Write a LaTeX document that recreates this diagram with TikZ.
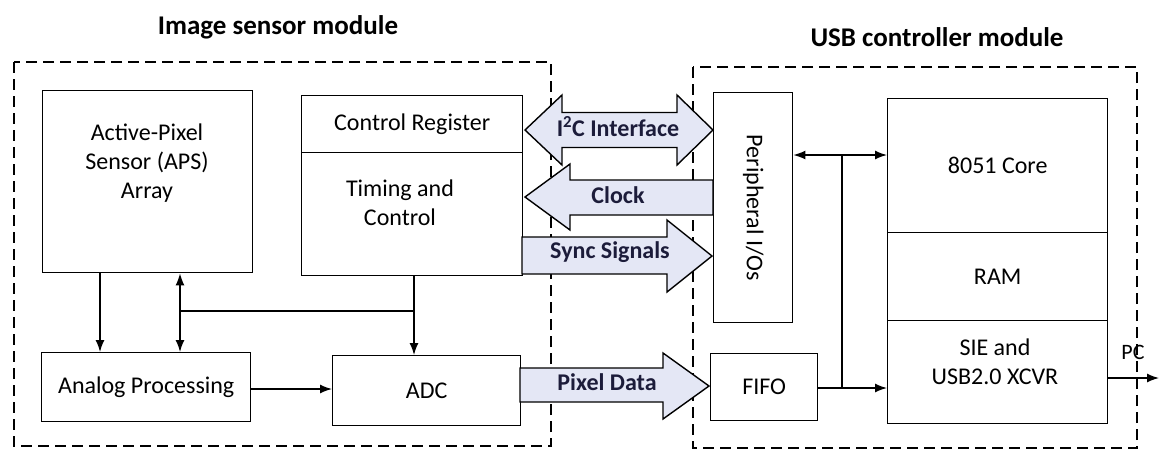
\documentclass[tikz,border=0pt]{standalone}
\usepackage{fontspec}
\setmainfont{Carlito}
\usetikzlibrary{arrows.meta}
\definecolor{arrfill}{HTML}{E4E7F5}
\definecolor{arrtext}{HTML}{1C1C3A}
\tikzset{
  box/.style={draw, line width=1.4pt, inner sep=0pt, anchor=north west},
  txt/.style={font=\fontsize{24}{29}\selectfont, align=center, inner sep=0pt},
  ttl/.style={font=\fontsize{27}{31}\selectfont\bfseries, inner sep=0pt},
  modbox/.style={draw, line width=1.3pt, dash pattern=on 11pt off 6pt},
  conn/.style={line width=1.4pt},
  arr/.style={conn, -{Latex[length=12pt,width=9pt]}},
  darr/.style={conn, {Latex[length=12pt,width=9pt]}-{Latex[length=12pt,width=9pt]}},
  blk/.style={draw, line width=1.4pt, fill=arrfill, line join=miter},
  blktxt/.style={font=\fontsize{24}{28}\selectfont\bfseries, text=arrtext, inner sep=0pt},
}
\begin{document}
\begin{tikzpicture}[x=1pt, y=-1pt]
\useasboundingbox (0,0) rectangle (1159,451);
% titles
\node[ttl] (t1) at (278,27) {Image sensor module};
\node[ttl] (t2) at (937,37) {USB controller module};
% module boxes
\draw[modbox] (14,62) rectangle (551,446);
\draw[modbox] (693,67) rectangle (1137,448);
% image sensor blocks
\node[box, minimum width=210pt, minimum height=182pt] (aps) at (42,90) {};
\node[txt] (apst) at (147,163) {Active-Pixel\\Sensor (APS)\\Array};
\node[box, minimum width=221pt, minimum height=57pt] (creg) at (301,95) {};
\node[txt] at (creg.center) {Control Register};
\node[box, minimum width=221pt, minimum height=123pt] (timing) at (301,152) {};
\node[txt] (timt) at (400,203) {Timing and\\Control};
\node[box, minimum width=209pt, minimum height=69pt] (ana) at (41,352) {};
\node[txt] at (ana.center) {Analog Processing};
\node[box, minimum width=188pt, minimum height=70pt] (adc) at (332,355) {};
\node[txt] at (adc.center) {ADC};
% USB controller blocks
\node[box, minimum width=79pt, minimum height=230pt] (per) at (713,92) {};
\node[txt, rotate=-90] at (per.center) {Peripheral I/Os};
\node[box, minimum width=107pt, minimum height=67pt] (fifo) at (710,353) {};
\node[txt] at (fifo.center) {FIFO};
\node[box, minimum width=220pt, minimum height=134pt] (core) at (887,98) {};
\node[txt] at (core.center) {8051 Core};
\node[box, minimum width=220pt, minimum height=88pt] (ram) at (887,232) {};
\node[txt] at (ram.center) {RAM};
\node[box, minimum width=220pt, minimum height=103pt] (sie) at (887,320) {};
\node[txt] (siet) at (995,362) {SIE and\\USB2.0 XCVR};
% helper coordinates
\coordinate (xa) at (100,0);
\coordinate (xb) at (180,0);
\coordinate (xc) at (414,0);
\coordinate (yh) at (0,311);
\coordinate (ya) at (0,389);
\coordinate (yb) at (0,155);
\coordinate (xv) at (842,0);
\coordinate (yf) at (0,388);
\coordinate (yp) at (0,378);
\coordinate (pcend) at (1159,378);
% connectors inside image sensor
\draw[arr] (aps.south -| xa) -- (ana.north -| xa);
\draw[darr] (aps.south -| xb) -- (ana.north -| xb);
\draw[conn] (xb |- yh) -- (xc |- yh);
\draw[arr] (timing.south -| xc) -- (adc.north -| xc);
\draw[arr] (ana.east |- ya) -- (adc.west |- ya);
% connectors inside USB controller
\draw[darr] (per.east |- yb) -- (core.west |- yb);
\draw[conn] (xv |- yb) -- (xv |- yf);
\draw[arr] (fifo.east |- yf) -- (sie.west |- yf);
\draw[arr] (sie.east |- yp) -- (pcend);
\node[txt, font=\fontsize{22}{26}\selectfont] (pc) at (1133,352) {PC};
% block arrows
\draw[blk] (525,130) -- (562,95) -- (562,112.5) -- (677,112.5) -- (677,95) -- (713,130)
  -- (677,165) -- (677,147.5) -- (562,147.5) -- (562,165) -- cycle;
\node[blktxt] (i2c) at (618,127) {I\textsuperscript{2}C Interface};
\draw[blk] (713,180) -- (570,180) -- (570,164) -- (525,197) -- (570,230) -- (570,215) -- (713,215) -- cycle;
\node[blktxt] (clk) at (618,195) {Clock};
\draw[blk] (522,237) -- (667,237) -- (667,220) -- (712,256) -- (667,292) -- (667,274) -- (522,274) -- cycle;
\node[blktxt] (sync) at (610,252) {Sync Signals};
\draw[blk] (520,368) -- (663,368) -- (663,353) -- (709,386) -- (663,419) -- (663,402) -- (520,402) -- cycle;
\node[blktxt] (pix) at (607,382) {Pixel Data};
\end{tikzpicture}
\end{document}
